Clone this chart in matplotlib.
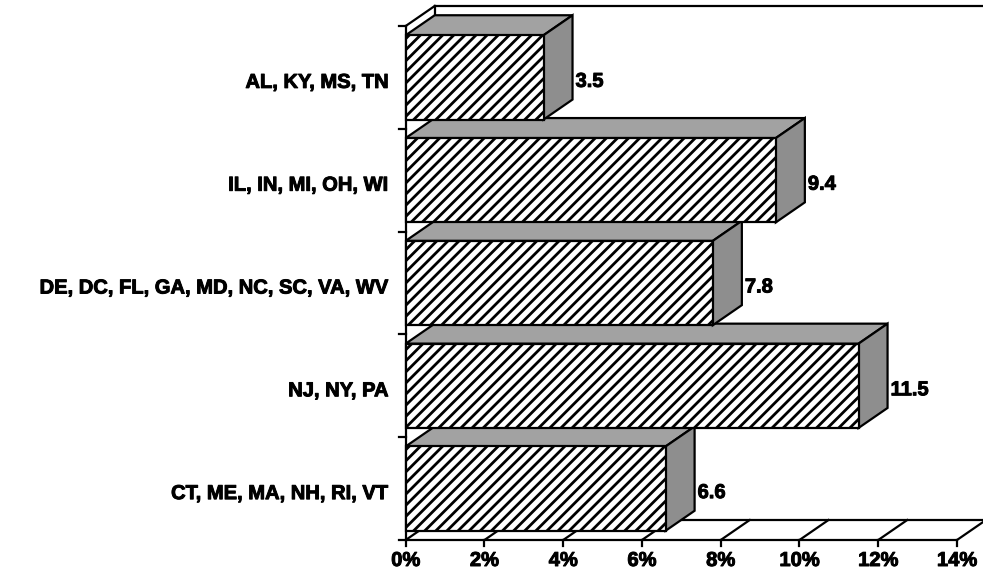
import matplotlib
matplotlib.use("Agg")
import matplotlib.pyplot as plt
import matplotlib.patheffects as pe
from matplotlib.patches import Polygon

plt.rcParams["font.family"] = ["Liberation Sans", "DejaVu Sans"]
plt.rcParams["hatch.linewidth"] = 2.0

# Regions (top to bottom) and their values in percent
regions = [
    "AL, KY, MS, TN",
    "IL, IN, MI, OH, WI",
    "DE, DC, FL, GA, MD, NC, SC, VA, WV",
    "NJ, NY, PA",
    "CT, ME, MA, NH, RI, VT",
]
values = [3.5, 9.4, 7.8, 11.5, 6.6]
value_labels = ["3.5", "9.4", "7.8", "11.5", "6.6"]
x_ticks = [0, 2, 4, 6, 8, 10, 12, 14]
x_tick_labels = ["0%", "2%", "4%", "6%", "8%", "10%", "12%", "14%"]

W, H = 983, 576
fig = plt.figure(figsize=(W / 100, H / 100), dpi=100)

# front plane of the plot box in pixels
x0_px, x14_px = 405.7, 957.0
ytop_px, ybot_px = 26.0, 540.0
ax = fig.add_axes([x0_px / W, (H - ybot_px) / H,
                   (x14_px - x0_px) / W, (ybot_px - ytop_px) / H])
n = len(regions)
ax.set_xlim(0, 14)
ax.set_ylim(0, n)
ax.set_axis_off()

px_x = (x14_px - x0_px) / 14.0          # pixels per percent
px_y = (ybot_px - ytop_px) / n          # pixels per category
DX = 29 / px_x                          # depth offset, x
DY = 20 / px_y                          # depth offset, y
LW = 1.6
bar_h = 0.82
TOP_GRAY = "#a2a2a2"
SIDE_GRAY = "#8e8e8e"
heavy = [pe.withStroke(linewidth=0.7, foreground="black")]
text_kw = dict(fontsize=14.5, fontweight="bold", path_effects=heavy)

# floor
xmax = 14 + DX + 2
ax.plot([0, 14], [0, 0], color="black", lw=LW, clip_on=False, zorder=1)
ax.plot([DX, xmax], [DY, DY], color="black", lw=LW, clip_on=False, zorder=1)
for t, lab in zip(x_ticks, x_tick_labels):
    ax.plot([t, t + DX], [0, DY], color="black", lw=LW, clip_on=False, zorder=1)
    ax.plot([t, t], [0, -6 / px_y], color="black", lw=LW, clip_on=False, zorder=1)
    ax.text(t, -11 / px_y, lab, ha="center", va="top", clip_on=False, **text_kw)

# left and back walls
ax.plot([0, 0], [0, n], color="black", lw=LW, clip_on=False, zorder=1)
ax.plot([0, DX], [n, n + DY], color="black", lw=LW, clip_on=False, zorder=1)
ax.plot([DX, DX], [DY, n + DY], color="black", lw=LW, clip_on=False, zorder=1)
ax.plot([DX, xmax], [n + DY, n + DY], color="black", lw=LW, clip_on=False, zorder=1)
for k in range(n + 1):
    ax.plot([-7 / px_x, 0], [k, k], color="black", lw=LW, clip_on=False, zorder=1)

# bars, drawn bottom first so upper bars sit in front
for i in reversed(range(n)):
    v = values[i]
    yc = n - 0.5 - i
    y0, y1 = yc - bar_h / 2, yc + bar_h / 2
    top = Polygon([(0, y1), (DX, y1 + DY), (v + DX, y1 + DY), (v, y1)],
                  closed=True, facecolor=TOP_GRAY, edgecolor="black",
                  lw=LW, zorder=3, clip_on=False)
    side = Polygon([(v, y0), (v, y1), (v + DX, y1 + DY), (v + DX, y0 + DY)],
                   closed=True, facecolor=SIDE_GRAY, edgecolor="black",
                   lw=LW, zorder=3, clip_on=False)
    front = Polygon([(0, y0), (0, y1), (v, y1), (v, y0)], closed=True,
                    facecolor="white", edgecolor="black", hatch="///",
                    lw=LW, zorder=4, clip_on=False)
    for p in (top, side, front):
        ax.add_patch(p)
    ax.text(v + DX + 3 / px_x, yc - 4 / px_y, value_labels[i], ha="left",
            va="center", zorder=5, **text_kw)
    ax.text(-17 / px_x, yc - 5 / px_y, regions[i], ha="right", va="center",
            zorder=5, **text_kw)

fig.savefig("out.png", dpi=100, facecolor="white")
